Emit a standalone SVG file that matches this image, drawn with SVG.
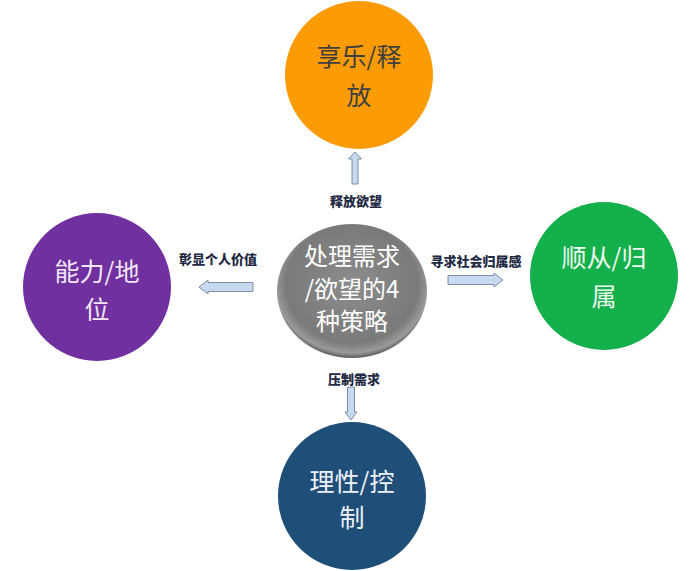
<svg xmlns="http://www.w3.org/2000/svg" width="694" height="571" viewBox="0 0 694 571">
<defs>
<radialGradient id="g" cx="50%" cy="45%" r="55%">
<stop offset="0" stop-color="#8c8c8c"/>
<stop offset="0.8" stop-color="#7a7a7a"/>
<stop offset="0.93" stop-color="#9a9a9a"/>
<stop offset="1" stop-color="#5a5a5a"/>
</radialGradient>
</defs>
<style>
.big{font-family:"Noto Sans CJK SC","Noto Sans",sans-serif;font-size:25px;text-anchor:middle}
.mid{font-family:"Noto Sans CJK SC","Noto Sans",sans-serif;font-size:24px;text-anchor:middle;fill:#ffffff}
.lbl{font-family:"Noto Sans CJK SC",sans-serif;font-size:13px;font-weight:900;fill:#1f2a44;text-anchor:middle}
.arr{fill:#c6d9ef;stroke:#7f8ea3;stroke-width:1}
</style>
<rect width="694" height="571" fill="#ffffff"/>
<g id="top">
<circle cx="359" cy="75" r="74" fill="#fb9c06"/>
<text class="big" x="359" y="66" fill="#3f3f3f">享乐/释</text>
<text class="big" x="359" y="105" fill="#3f3f3f">放</text>
</g>
<g id="left">
<circle cx="97" cy="287" r="74" fill="#7030a0"/>
<text class="big" x="97" y="281" fill="#f2e8f7">能力/地</text>
<text class="big" x="97" y="319" fill="#f2e8f7">位</text>
</g>
<g id="right">
<circle cx="604" cy="276" r="74" fill="#14b04c"/>
<text class="big" x="604" y="267" fill="#eef8ee">顺从/归</text>
<text class="big" x="604" y="306" fill="#eef8ee">属</text>
</g>
<g id="bottom">
<circle cx="352" cy="496" r="74" fill="#1f4e79"/>
<text class="big" x="352" y="491" fill="#eef2f7">理性/控</text>
<text class="big" x="352" y="527" fill="#eef2f7">制</text>
</g>
<g id="center">
<ellipse cx="352" cy="291" rx="75" ry="67" fill="url(#g)"/>
<text class="mid" x="352" y="265">处理需求</text>
<text class="mid" x="352" y="298">/欲望的4</text>
<text class="mid" x="352" y="330">种策略</text>
</g>
<g id="connectors">
<path class="arr" d="M352,184 V159 H348.5 L355,152 L361.5,159 H358 V184 Z"/>
<path class="arr" d="M347.5,387 V412 H345 L351,420 L357,412 H354.5 V387 Z"/>
<path class="arr" d="M253,282.5 H208 V280 L199,287 L208,294 V291.5 H253 Z"/>
<path class="arr" d="M448,275.5 H494 V273 L503,280 L494,287 V284.5 H448 Z"/>
<text class="lbl" x="356" y="206">释放欲望</text>
<text class="lbl" x="354" y="384">压制需求</text>
<text class="lbl" x="218" y="264">彰显个人价值</text>
<text class="lbl" x="476" y="266">寻求社会归属感</text>
</g>
</svg>
